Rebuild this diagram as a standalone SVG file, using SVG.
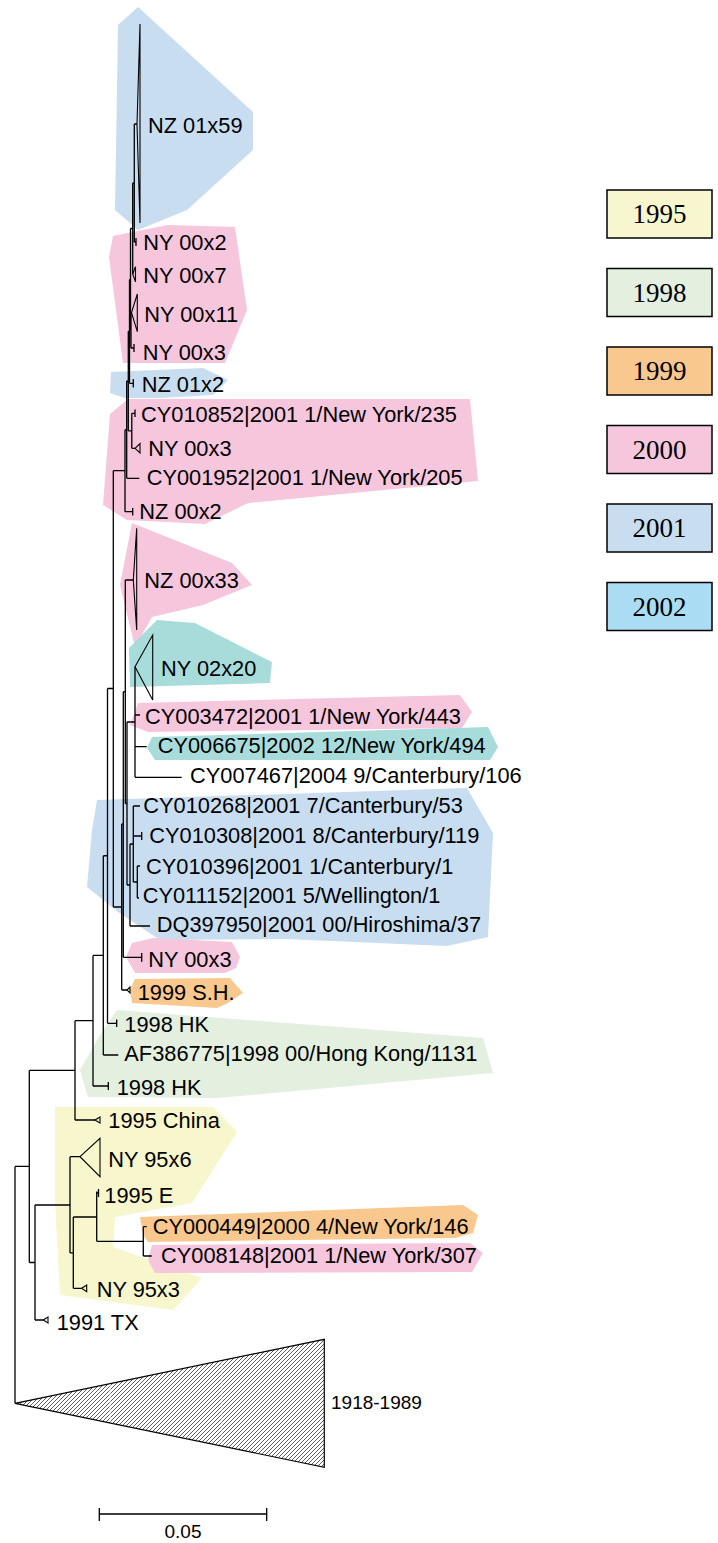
<svg xmlns="http://www.w3.org/2000/svg" width="718" height="1543" viewBox="0 0 718 1543">
<style>
.y95{fill:#f7f6cc}.g98{fill:#e3efdf}.o99{fill:#f8c88e}.p00{fill:#f5c6dc}.b01{fill:#c9ddf0}.t02{fill:#a8dcdb}
.lbl{font-family:"Liberation Sans",Arial,sans-serif;font-size:21.8px;fill:#000}
.sm{font-family:"Liberation Sans",Arial,sans-serif;font-size:19px;fill:#000}
.leg{font-family:"Liberation Serif","Times New Roman",serif;font-size:27px;fill:#000;text-anchor:middle}
.br{fill:none;stroke:#000;stroke-width:1.3}
.tri{fill:none;stroke:#000;stroke-width:1.1}
.box{stroke:#000;stroke-width:1.5}
</style>
<defs>
<pattern id="hatch" patternUnits="userSpaceOnUse" width="4" height="4">
<path d="M-1,1 L1,-1 M0,4 L4,0 M3,5 L5,3" stroke="#333" stroke-width="0.8"/>
</pattern>
</defs>
<rect width="718" height="1543" fill="#fff"/>
<g id="highlights">
<polygon class="b01" points="138,7 118,25 115,210 138,230 187,210 253,150 253,112"/>
<polygon class="p00" points="113,236 168,225 235,227 247,310 225,363 123,363 109,257"/>
<polygon class="b01" points="111,372 203,368 228,380 213,395 160,398 125,398 110,393"/>
<polygon class="p00" points="110,414 128,399 470,399 478,481 248,503 205,524 127,520 103,505"/>
<polygon class="p00" points="132,523 232,563 252,585 203,605 152,617 135,647 120,585"/>
<polygon class="t02" points="157,620 195,623 272,662 270,683 130,687 129,648"/>
<polygon class="p00" points="138,703 460,695 472,712 462,728 148,732 130,725"/>
<polygon class="t02" points="152,737 488,727 498,747 490,760 155,760 147,748"/>
<polygon class="b01" points="97,800 467,788 493,833 488,937 447,946 285,939 160,940 118,912 87,887 92,830"/>
<polygon class="p00" points="132,943 153,938 232,942 240,957 236,968 225,973 135,973 126,957"/>
<polygon class="o99" points="135,979 230,978 243,993 228,1003 217,1008 132,1003 130,990"/>
<polygon class="g98" points="117,1010 483,1038 493,1073 218,1098 88,1097 80,1070 100,1035"/>
<polygon class="y95" points="55,1107 213,1107 237,1132 192,1203 115,1217 113,1247 202,1278 173,1310 60,1295 55,1200"/>
<polygon class="o99" points="140,1217 463,1205 478,1215 473,1233 455,1238 148,1242 143,1235"/>
<polygon class="p00" points="152,1245 470,1243 483,1253 472,1272 155,1273 148,1260"/>
</g>
<g id="connectors" class="br">
<path d="M15,1166.4V1403.3M15,1166.4H29.3M29.3,1070.4V1262.5M29.3,1070.4H75M29.3,1262.5H35M35,1205V1320M35,1205H70M35,1320H43.3"/>
<path d="M70,1156.7V1252.9M70,1156.7H80M70,1252.9H73.3M73.3,1217V1288.3M73.3,1217H96.7M73.3,1288.3H81.7M96.7,1191.5V1241.3M96.7,1193H98.5M96.7,1241.3H143.3M143.3,1226.7V1256M143.3,1226.7H146.7M143.3,1256H151.7"/>
<path d="M75,1020.7V1120M75,1020.7H93M75,1120H95M93,955.4V1086M93,955.4H103.3M93,1086H108.3M103.3,855.75V1055M103.3,855.75H107.5M103.3,1055H118.3M107.5,688.5V1023.3M107.5,688.5H113.3M107.5,1023.3H116.7"/>
<path d="M113.3,470.7V907M113.3,470.7H125M113.3,907H121.7M121.7,824V990M121.7,824H123.3M121.7,990H127M123.3,691.75V957.3M123.3,691.75H125.3M123.3,957.3H141.7"/>
<path d="M125.3,580V803.5M125.3,580H133.3M125.3,803.5H127M127,722V885M127,722H135M127,885H130M135,666.7V777.3M135,715H140M135,746.7H146.7M135,777.3H181.7"/>
<path d="M130,844V926M130,844H133.3M130,926H150M133.3,806V882M133.3,806H140M133.3,836H141.7M133.3,882H137.3M137.3,866V898M137.3,866H140M137.3,898H139"/>
<path d="M125,429.65V511.7M125,429.65H126.7M125,511.7H132.7M126.7,381V478.3M126.7,381H128.3M126.7,478.3H139.3M128.3,331.35V430.8M128.3,331.35H129.5M128.3,430.8H131.8M131.8,413.3V448.3M131.8,413.3H135M131.8,448.3H135"/>
<path d="M129.5,279.4V383.3M129.5,279.4H130.5M129.5,383.3H133.3M130.5,228.5V330.35M130.5,228.5H132.7M130.5,330.35H131M131,312.7V348M131,312.7H131.5M131,348H134M132.7,183V274M132.7,183H134.3M134.3,124V242M134.3,124H137M134.3,242H136"/>
<path d="M136,238V246M134,344V352M133.3,379V387.5M135,409.5V417M132.7,508V515.5M141.7,832V840M141.7,953V961.7M116.7,1019.5V1027M108.3,1082V1090M98.5,1189V1197"/>
</g>
<g id="collapsed">
<polygon class="tri" points="137,124 140,24 140,223"/>
<polygon class="tri" points="132.7,274 135.5,266.7 135.5,281.7"/>
<polygon class="tri" points="131.5,312.7 137.3,294 137.3,331.7"/>
<polygon class="tri" points="135,448.3 140,443.5 140,453"/>
<polygon class="tri" points="133.3,580 136.7,528.3 136.7,630"/>
<polygon class="tri" points="135,666.7 152.7,635 152.7,700"/>
<polygon class="tri" points="127,990 130,987 130,993"/>
<polygon class="tri" points="95,1120 100,1117 100,1123"/>
<polygon class="tri" points="80,1156.7 100,1138.3 100,1176.7"/>
<polygon class="tri" points="81.7,1288.3 86.7,1285 86.7,1291.7"/>
<polygon class="tri" points="43.3,1320 48,1317 48,1323"/>
</g>
<g id="n-outgroup">
<polygon points="15,1403.3 324.3,1339.3 324.3,1467.3" fill="url(#hatch)" stroke="#000" stroke-width="1.2"/>
<path d="M110,1384.5V1422M222,1361.5V1445" stroke="#fff" stroke-width="1" stroke-dasharray="2,2"/>
<text class="sm" x="331" y="1409">1918-1989</text>
</g>
<g id="labels">
<g id="n1"><text class="lbl" x="148" y="133">NZ 01x59</text></g>
<g id="n2"><text class="lbl" x="143.3" y="250">NY 00x2</text></g>
<g id="n3"><text class="lbl" x="143.3" y="283">NY 00x7</text></g>
<g id="n4"><text class="lbl" x="144.3" y="321.5">NY 00x11</text></g>
<g id="n5"><text class="lbl" x="142.7" y="360">NY 00x3</text></g>
<g id="n6"><text class="lbl" x="141.7" y="391.5">NZ 01x2</text></g>
<g id="n7"><text class="lbl" x="141" y="422">CY010852|2001 1/New York/235</text></g>
<g id="n8"><text class="lbl" x="148.3" y="456">NY 00x3</text></g>
<g id="n9"><text class="lbl" x="146.7" y="485">CY001952|2001 1/New York/205</text></g>
<g id="n10"><text class="lbl" x="139.3" y="519">NZ 00x2</text></g>
<g id="n11"><text class="lbl" x="144.3" y="588">NZ 00x33</text></g>
<g id="n12"><text class="lbl" x="161" y="676">NY 02x20</text></g>
<g id="n13"><text class="lbl" x="145" y="724">CY003472|2001 1/New York/443</text></g>
<g id="n14"><text class="lbl" x="157.7" y="753">CY006675|2002 12/New York/494</text></g>
<g id="n15"><text class="lbl" x="190" y="782.7">CY007467|2004 9/Canterbury/106</text></g>
<g id="n16"><text class="lbl" x="143.3" y="813">CY010268|2001 7/Canterbury/53</text></g>
<g id="n17"><text class="lbl" x="149.3" y="842.5">CY010308|2001 8/Canterbury/119</text></g>
<g id="n18"><text class="lbl" x="146" y="874">CY010396|2001 1/Canterbury/1</text></g>
<g id="n19"><text class="lbl" x="142.7" y="903">CY011152|2001 5/Wellington/1</text></g>
<g id="n20"><text class="lbl" x="156.7" y="932">DQ397950|2001 00/Hiroshima/37</text></g>
<g id="n21"><text class="lbl" x="148.3" y="966.5">NY 00x3</text></g>
<g id="n22"><text class="lbl" x="137.7" y="999.5">1999 S.H.</text></g>
<g id="n23"><text class="lbl" x="124.3" y="1032">1998 HK</text></g>
<g id="n24"><text class="lbl" x="124.3" y="1061">AF386775|1998 00/Hong Kong/1131</text></g>
<g id="n25"><text class="lbl" x="116.7" y="1094.5">1998 HK</text></g>
<g id="n26"><text class="lbl" x="108.3" y="1128">1995 China</text></g>
<g id="n27"><text class="lbl" x="108.3" y="1166.5">NY 95x6</text></g>
<g id="n28"><text class="lbl" x="104.3" y="1203">1995 E</text></g>
<g id="n29"><text class="lbl" x="152.7" y="1234">CY000449|2000 4/New York/146</text></g>
<g id="n30"><text class="lbl" x="161" y="1263">CY008148|2001 1/New York/307</text></g>
<g id="n31"><text class="lbl" x="96.7" y="1296.5">NY 95x3</text></g>
<g id="n32"><text class="lbl" x="56.7" y="1330">1991 TX</text></g>
</g>
<g id="scalebar">
<path d="M99.3,1514H266.7M99.3,1508V1521M266.7,1508V1521" stroke="#000" stroke-width="1.3" fill="none"/>
<text class="sm" x="183" y="1538" text-anchor="middle">0.05</text>
</g>
<g id="legend">
<g id="leg1995"><rect class="box" x="607" y="190" width="105" height="48" fill="#f8f6cf"/><text class="leg" x="659.5" y="223">1995</text></g>
<g id="leg1998"><rect class="box" x="607" y="268.5" width="105" height="48" fill="#e3efdf"/><text class="leg" x="659.5" y="301.5">1998</text></g>
<g id="leg1999"><rect class="box" x="607" y="347" width="105" height="48" fill="#f8c88e"/><text class="leg" x="659.5" y="380">1999</text></g>
<g id="leg2000"><rect class="box" x="607" y="425.5" width="105" height="48" fill="#f5c6dc"/><text class="leg" x="659.5" y="458.5">2000</text></g>
<g id="leg2001"><rect class="box" x="607" y="504" width="105" height="48" fill="#c9ddf0"/><text class="leg" x="659.5" y="537">2001</text></g>
<g id="leg2002"><rect class="box" x="607" y="582.5" width="105" height="48" fill="#aadcf3"/><text class="leg" x="659.5" y="615.5">2002</text></g>
</g>
</svg>
